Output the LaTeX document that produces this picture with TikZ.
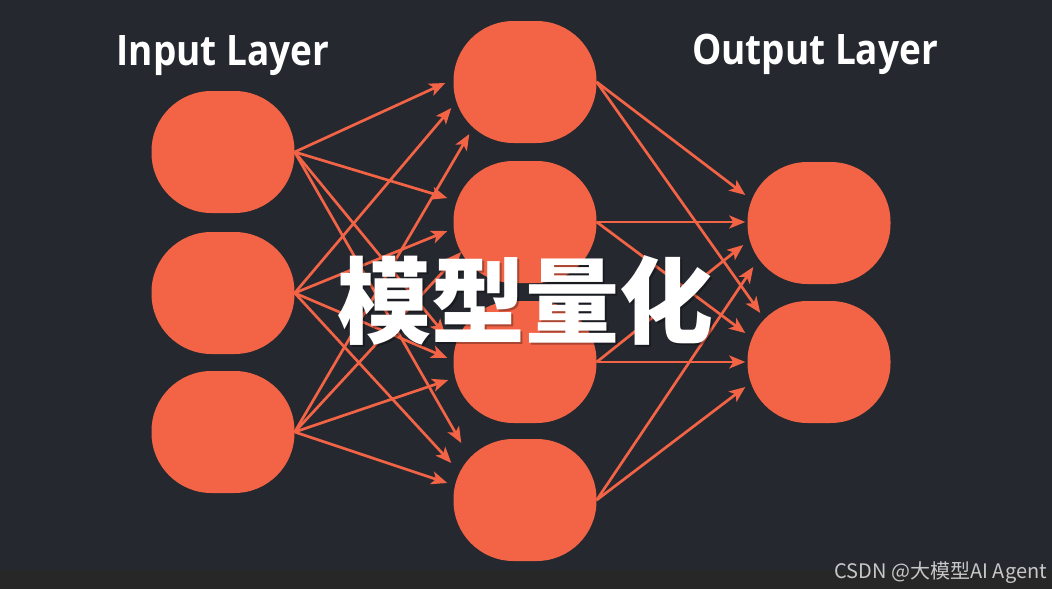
\documentclass[tikz,border=0pt]{standalone}
\usepackage{fontspec}
\newfontfamily\titlefont[FakeStretch=0.88]{Open Sans}
\newfontfamily\cjkfont{Noto Sans CJK SC}
\usetikzlibrary{arrows.meta}
\definecolor{bgdark}{RGB}{37,40,47}
\definecolor{stripgray}{RGB}{39,39,39}
\definecolor{neuron}{RGB}{243,99,69}
\definecolor{markgray}{RGB}{200,200,200}

\begin{document}
\begin{tikzpicture}[x=1pt, y=-1pt,
  unit/.style={rectangle, rounded corners=60pt, fill=neuron, minimum width=143pt, minimum height=122pt, inner sep=0pt},
  link/.style={line width=2.7pt, neuron, -{Stealth[length=16pt, width=13pt, inset=4pt]}},
  layertitle/.style={font=\titlefont\bfseries\fontsize{42}{42}\selectfont, text=white}]
% Background
\fill[bgdark] (0,0) rectangle (1052,589);
\fill[stripgray] (0,570) rectangle (1052,589);
\useasboundingbox (0,0) rectangle (1052,589);

% Layer titles
\node[layertitle, anchor=base] (intitle) at (223,65) {Input Layer};
\node[layertitle, anchor=base] (outtitle) at (815,64) {Output Layer};

% Neurons
\foreach \n/\y in {1/152, 2/293, 3/432}
  \node[unit] (i\n) at (223,\y) {};
\foreach \n/\y in {1/82, 2/222, 3/362, 4/500}
  \node[unit] (h\n) at (525,\y) {};
\foreach \n/\y in {1/223, 2/362}
  \node[unit] (o\n) at (819,\y) {};

% Input -> hidden
\foreach \s/\t/\dx/\dy in {i1/h1/-8/-1, i2/h1/-2/-26, i3/h1/16/-52,
                           i1/h2/-6/24, i2/h2/-6/-9, i3/h2/8/-30,
                           i1/h3/-8/27, i2/h3/-6/4, i3/h3/-5/-18,
                           i1/h4/8/57, i2/h4/-2/37, i3/h4/-6/17}
  \draw[link] (\s.east) -- ([xshift=\dx pt, yshift=\dy pt]\t.west);

% Hidden -> output
\foreach \s/\t/\dx/\dy in {h1/o1/-2/28, h2/o1/-2/1, h3/o1/-4/-22, h4/o1/6/-44,
                           h1/o2/13/49, h2/o2/-2/29, h3/o2/-2/0, h4/o2/-2/-25}
  \draw[link] (\s.east) -- ([xshift=\dx pt, yshift=\dy pt]\t.west);

% Caption over the net
\node[font=\cjkfont\bfseries\fontsize{94}{94}\selectfont, text=black, opacity=0.3] (capshadow) at (527,302) {模型量化};
\node[font=\cjkfont\bfseries\fontsize{94}{94}\selectfont, text=white] (caption) at (525,300) {模型量化};

% Watermark
\node[anchor=base east, inner sep=0pt, font=\cjkfont\fontsize{20}{20}\selectfont, text=markgray] (mark) at (1047,578) {CSDN @大模型AI Agent};
\end{tikzpicture}
\end{document}
